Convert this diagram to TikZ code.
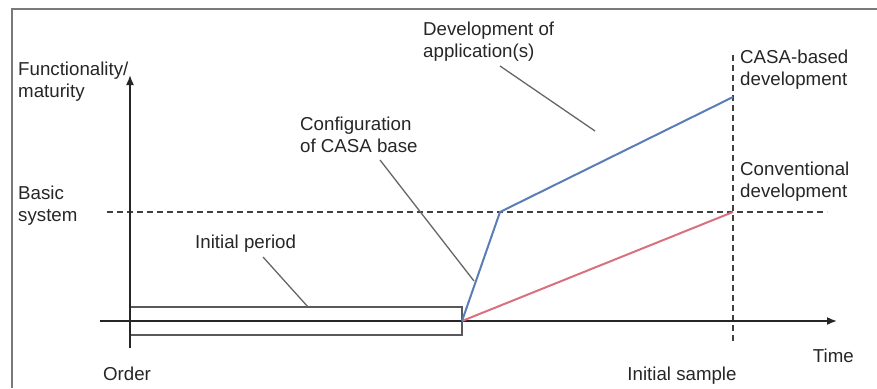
\documentclass[tikz,border=0pt]{standalone}
\usepackage{fontspec}
\setmainfont{Liberation Sans}
\usetikzlibrary{arrows.meta}
\definecolor{casacolor}{HTML}{5A7DB8}
\definecolor{convcolor}{HTML}{D9707E}
\definecolor{framecolor}{HTML}{7A7A7A}
\tikzset{axis/.style={-{Latex[length=10pt,width=8pt]},line width=1.6pt,black!85},limit/.style={dashed,dash pattern=on 6pt off 4pt,line width=1.2pt,black!75},curve casa/.style={draw=casacolor,line width=2pt},curve conv/.style={draw=convcolor,line width=2pt},leader/.style={draw=black!60,line width=1.3pt},period/.style={draw=black!65,line width=1.1pt},diagram label/.style={font=\fontsize{18.7}{21.6}\selectfont,align=left,inner sep=0pt,text=black!85}}

\begin{document}
\begin{tikzpicture}[x=1pt,y=-1pt]
 \useasboundingbox (0,0) rectangle (877,388);
 \draw[framecolor,line width=1.3pt] (12,388)--(12,9)--(877,9);

 \coordinate (ytop) at (130,75);
 \coordinate (ybot) at (130,348);
 \coordinate (xleft) at (100,321);
 \coordinate (xtip) at (837,321);
 \coordinate (basic-l) at (107,212);
 \coordinate (basic-r) at (827,212);
 \coordinate (sample-t) at (733,55);
 \coordinate (sample-b) at (733,343);
 \coordinate (start) at (462,321);
 \coordinate (knee) at (500,212);
 \coordinate (casa-end) at (733,97);
 \coordinate (conv-end) at (733,212);
 \coordinate (init-a) at (130,307);
 \coordinate (init-b) at (462,335);

 % time span of the initial period, then the axes on top
 \draw[period] (init-a) rectangle (init-b);
 \draw[limit] (basic-l)--(basic-r);
 \draw[limit] (sample-t)--(sample-b);
 \draw[axis] (ybot)--(ytop);
 \draw[axis] (xleft)--(xtip);

 \draw[curve conv] (start)--(conv-end);
 \draw[curve casa] (start)--(knee)--(casa-end);

 % multi-line labels sit on the baseline of their last line
 \node[diagram label,anchor=base west] (fm) at (18,97) {Functionality/\\maturity};
 \node[diagram label,anchor=base west] (basic) at (18,221) {Basic\\system};
 \node[diagram label,anchor=base] (order) at (127,380) {Order};
 \node[diagram label,anchor=base west] (initper) at (195,248) {Initial period};
 \node[diagram label,anchor=base west] (config) at (300,152) {Configuration\\of CASA base};
 \node[diagram label,anchor=base west] (devapp) at (423,57) {Development of\\application(s)};
 \node[diagram label,anchor=base west] (casa) at (740,85) {CASA-based\\development};
 \node[diagram label,anchor=base west] (conv) at (740,197) {Conventional\\development};
 \node[diagram label,anchor=base east] (time) at (854,362) {Time};
 \node[diagram label,anchor=base] (sample) at (682,380) {Initial sample};

 % leader lines from the labels
 \coordinate (initper-l1) at (263,257);
 \coordinate (initper-l2) at (308,307);
 \coordinate (config-l1) at (380,160);
 \coordinate (config-l2) at (474,281);
 \coordinate (devapp-l1) at (500,66);
 \coordinate (devapp-l2) at (595,131);
 \draw[leader] (initper-l1)--(initper-l2);
 \draw[leader] (config-l1)--(config-l2);
 \draw[leader] (devapp-l1)--(devapp-l2);
\end{tikzpicture}
\end{document}
